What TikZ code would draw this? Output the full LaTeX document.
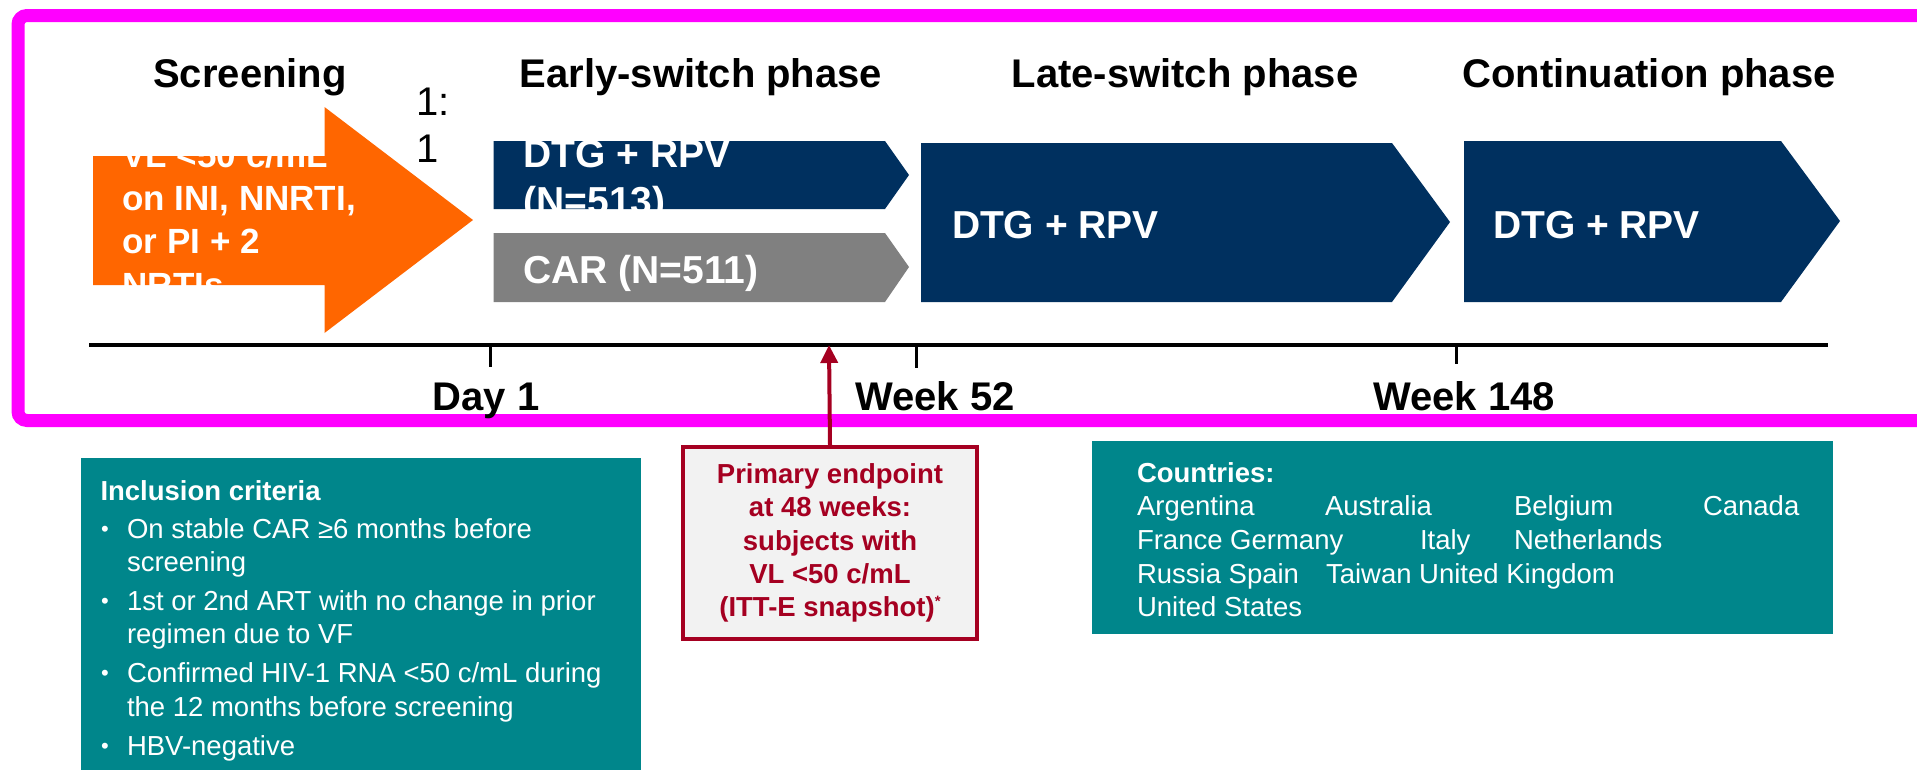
\documentclass[tikz,border=0pt]{standalone}
\usepackage{fontspec}
\setmainfont{Liberation Sans}
\usetikzlibrary{arrows.meta}

\definecolor{framemagenta}{HTML}{FF00FF}
\definecolor{armnavy}{HTML}{00305F}
\definecolor{armgray}{HTML}{808080}
\definecolor{screenorange}{HTML}{FF6600}
\definecolor{boxteal}{HTML}{00868B}
\definecolor{epred}{HTML}{A50021}
\definecolor{epfill}{HTML}{F2F2F2}

\tikzset{
  txt/.style={inner sep=0pt, outer sep=0pt},
  header/.style={txt, anchor=base, font=\fontsize{40}{46}\selectfont\bfseries},
  armtext/.style={txt, anchor=base west, text=white, font=\fontsize{39}{46}\selectfont\bfseries},
  screentext/.style={txt, anchor=base west, text=white, font=\fontsize{35}{44}\selectfont\bfseries},
  ticklabel/.style={txt, anchor=base, font=\fontsize{40}{46}\selectfont\bfseries},
  infobox/.style={fill=boxteal, draw=none, inner sep=0pt, anchor=north west},
  infohead/.style={txt, anchor=base west, text=white, font=\fontsize{27.5}{33}\selectfont\bfseries},
  infoline/.style={txt, anchor=base west, text=white, font=\fontsize{27.5}{33}\selectfont},
  bulletmark/.style={txt, anchor=base west, text=white, font=\fontsize{22}{33}\selectfont},
  tick/.style={line width=3pt, black},
}

\begin{document}
\begin{tikzpicture}[x=1pt, y=-1pt]
\useasboundingbox (0,0) rectangle (1917,769);
\fill[white] (0,0) rectangle (1917,769);

\begin{scope}
\clip (0,0) rectangle (1917,769);

% outer frame (runs off the right edge)
\draw[framemagenta, line width=13pt, rounded corners=9pt] (18,15.5) rectangle (1960,420.5);

% phase headings
\node[header] (hScreen) at (250,87) {Screening};
\node[header] (hEarly)  at (701,87) {Early-switch phase};
\node[header] (hLate)   at (1185,87) {Late-switch phase};
\node[header] (hCont)   at (1649,87) {Continuation phase};

% randomisation ratio
\node[txt, anchor=base west, font=\fontsize{40}{46}\selectfont] (ratioA) at (416,115) {1:};
\node[txt, anchor=base west, font=\fontsize{40}{46}\selectfont] (ratioB) at (416,162) {1};

% screening arrow
\fill[screenorange] (93,156) -- (324.5,156) -- (324.5,107) -- (473,220)
  -- (324.5,333) -- (324.5,285) -- (93,285) -- cycle;
\begin{scope}
  \clip (93,156) rectangle (480,285);
  \node[screentext] (scrA) at (122.5,167) {VL <50 c/mL};
  \node[screentext] (scrB) at (122.5,210) {on INI, NNRTI,};
  \node[screentext] (scrC) at (122.5,253) {or PI + 2};
  \node[screentext] (scrD) at (122.5,297) {NRTIs};
\end{scope}

% early-switch arms
\fill[armnavy] (493.5,141) -- (885,141) -- (909,175) -- (885,209) -- (493.5,209) -- cycle;
\begin{scope}
  \clip (493.5,141) -- (885,141) -- (909,175) -- (885,209) -- (493.5,209) -- cycle;
  \node[armtext] (dtgA) at (523.5,167) {DTG + RPV};
  \node[armtext] (dtgB) at (523.5,214) {(N=513)};
\end{scope}
\fill[armgray] (493.5,233) -- (885,233) -- (909,267) -- (885,302) -- (493.5,302) -- cycle;
\node[armtext] (car) at (523.5,283) {CAR (N=511)};

% late-switch and continuation arms
\fill[armnavy] (921,143) -- (1392,143) -- (1450,222) -- (1392,302) -- (921,302) -- cycle;
\node[armtext] (lateTx) at (952,238) {DTG + RPV};
\fill[armnavy] (1464,141) -- (1781,141) -- (1840,221) -- (1781,302) -- (1464,302) -- cycle;
\node[armtext] (contTx) at (1493,238) {DTG + RPV};

% timeline
\coordinate (tlStart) at (89,345);
\coordinate (tlEnd) at (1828,345);
\coordinate (tDay) at (490,345);
\coordinate (tW52) at (916,345);
\coordinate (tW148) at (1456,345);
\coordinate (tW48) at (829,345);
\draw[line width=4pt] (tlStart) -- (tlEnd);
\draw[tick] (tDay) -- ++(0,22);
\draw[tick] (tW52) -- ++(0,23);
\draw[tick] (tW148) -- ++(0,19);
\node[ticklabel] (lDay) at (486,410) {Day 1};
\node[ticklabel] (lW52) at (935,410) {Week 52};
\node[ticklabel] (lW148) at (1464,410) {Week 148};

% primary endpoint
\node[draw=epred, fill=epfill, line width=3.5pt, minimum width=294pt, minimum height=192pt,
      inner sep=0pt, align=center, text=epred,
      font=\fontsize{27.5}{33.3}\selectfont\bfseries] (ep) at (830,543)
  {Primary endpoint\\at 48 weeks:\\subjects with\\VL <50 c/mL\\(ITT-E snapshot)\raisebox{10pt}{\fontsize{15}{15}\selectfont *}};
\draw[epred, line width=4pt, -{Triangle[length=18pt, width=17pt]}] (ep.north) -- (tW48);

% inclusion criteria
\node[infobox, minimum width=560pt, minimum height=330pt] (incl) at (80.5,458) {};
\node[infohead] (inclHead) at (100.5,500) {Inclusion criteria};
\node[bulletmark] (b1) at (101,536) {•};
\node[infoline] (i1a) at (127,538) {On stable CAR ≥6 months before};
\node[infoline] (i1b) at (127,571) {screening};
\node[bulletmark] (b2) at (101,608) {•};
\node[infoline] (i2a) at (127,610) {1st or 2nd ART with no change in prior};
\node[infoline] (i2b) at (127,643) {regimen due to VF};
\node[bulletmark] (b3) at (101,680) {•};
\node[infoline] (i3a) at (127,682) {Confirmed HIV-1 RNA <50 c/mL during};
\node[infoline] (i3b) at (127,716) {the 12 months before screening};
\node[bulletmark] (b4) at (101,753) {•};
\node[infoline] (i4a) at (127,755) {HBV-negative};

% countries
\node[infobox, minimum width=741pt, minimum height=193pt] (ctry) at (1092,441) {};
\node[infohead] (ctryHead) at (1137,482) {Countries:};
\node[infoline] (cArg) at (1137,515) {Argentina};
\node[infoline] (cAus) at (1325,515) {Australia};
\node[infoline] (cBel) at (1514,515) {Belgium};
\node[infoline] (cCan) at (1703,515) {Canada};
\node[infoline] (cFra) at (1137,549) {France Germany};
\node[infoline] (cIta) at (1420,549) {Italy};
\node[infoline] (cNet) at (1514,549) {Netherlands};
\node[infoline] (cRus) at (1137,583) {Russia Spain};
\node[infoline] (cTai) at (1326,583) {Taiwan United Kingdom};
\node[infoline] (cUSA) at (1137,616) {United States};
\end{scope}
\end{tikzpicture}
\end{document}
